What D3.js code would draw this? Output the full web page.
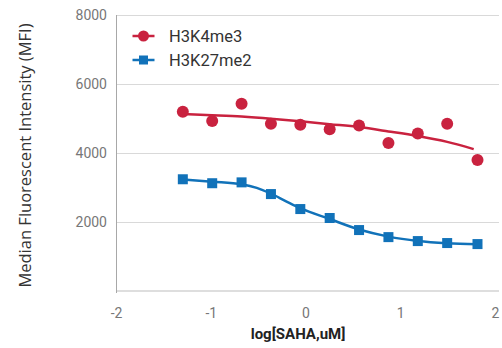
<!DOCTYPE html>
<html>
<head>
<meta charset="utf-8">
<script src="https://cdn.jsdelivr.net/npm/d3@7"></script>
<style>
  html, body { margin: 0; padding: 0; background: #fff; }
  svg { display: block; }
</style>
</head>
<body>
<svg id="chart" width="502" height="348"></svg>
<script>
// Dose points (log10 SAHA concentration, uM)
const doses = [-1.30, -0.99, -0.68, -0.37, -0.06, 0.25, 0.56, 0.87, 1.18, 1.49, 1.81];

// Measured MFI per mark
const h3k4me3 = [5190, 4925, 5420, 4840, 4810, 4685, 4790, 4285, 4560, 4840, 3790];
const h3k27me2 = [3230, 3115, 3140, 2800, 2365, 2105, 1755, 1550, 1435, 1378, 1348];

// Fitted curves (x, MFI)
const fitH3k4me3X = [-1.30, -0.99, -0.68, -0.37, -0.06, 0.25, 0.56, 0.87, 1.18, 1.49, 1.77];
const fitH3k4me3Y = [5125, 5090, 5050, 4990, 4915, 4830, 4745, 4620, 4485, 4315, 4105];
const fitH3k27me2X = [-1.30, -0.99, -0.68, -0.52, -0.37, -0.21, -0.06, 0.25, 0.56, 0.87, 1.18, 1.49, 1.81];
const fitH3k27me2Y = [3225, 3160, 3085, 2980, 2810, 2590, 2390, 2075, 1770, 1565, 1440, 1375, 1345];

const xTicks = [-2, -1, 0, 1, 2];
const yTicks = [2000, 4000, 6000, 8000];

const seriesNames = ["H3K4me3", "H3K27me2"];
const colors = ["#c9223f", "#1172b9"];

const svg = d3.select("#chart");
const margin = { left: 116.5, right: 3, top: 15, bottom: 58 };
const W = 502, H = 348;

const x = d3.scaleLinear().domain([-2, 2]).range([margin.left, 495.5]);
const y = d3.scaleLinear().domain([0, 8000]).range([290.5, margin.top]);

// Horizontal grid lines
svg.append("g")
  .selectAll("line")
  .data(yTicks)
  .join("line")
  .attr("x1", margin.left).attr("x2", W - margin.right)
  .attr("y1", d => Math.round(y(d)) + 0.5).attr("y2", d => Math.round(y(d)) + 0.5)
  .attr("stroke", "#d9d9d9").attr("stroke-width", 1.2);

// Baseline
svg.append("line")
  .attr("x1", margin.left).attr("x2", W - margin.right)
  .attr("y1", y(0) + 0.5).attr("y2", y(0) + 0.5)
  .attr("stroke", "#dedede").attr("stroke-width", 2);

// Left axis line
svg.append("line")
  .attr("x1", margin.left).attr("x2", margin.left)
  .attr("y1", y(8000)).attr("y2", y(0) + 2.5)
  .attr("stroke", "#a8a8a8").attr("stroke-width", 1);

// Y tick labels
svg.append("g")
  .selectAll("text")
  .data(yTicks)
  .join("text")
  .attr("x", 107).attr("y", d => y(d))
  .attr("dy", "0.36em")
  .attr("text-anchor", "end")
  .attr("font-family", "Roboto, sans-serif")
  .attr("font-size", 14)
  .attr("fill", "#777")
  .text(d => d);

// X tick labels
svg.append("g")
  .selectAll("text")
  .data(xTicks)
  .join("text")
  .attr("x", d => x(d)).attr("y", 318)
  .attr("text-anchor", "middle")
  .attr("font-family", "Roboto, sans-serif")
  .attr("font-size", 14)
  .attr("fill", "#777")
  .text(d => d < 0 ? "-" + Math.abs(d) : d);

// Axis titles
svg.append("text")
  .attr("x", 298).attr("y", 339)
  .attr("text-anchor", "middle")
  .attr("font-family", "Roboto, sans-serif")
  .attr("font-weight", "bold")
  .attr("font-size", 15)
  .attr("fill", "#222")
  .text("log[SAHA,uM]");

svg.append("text")
  .attr("transform", "translate(30.5,155.5) rotate(-90)")
  .attr("text-anchor", "middle")
  .attr("font-family", "'Open Sans', sans-serif")
  .attr("font-size", 16.5)
  .attr("fill", "#333")
  .text("Median Fluorescent Intensity (MFI)");

// Fit curves
const line = d3.line().x(d => x(d[0])).y(d => y(d[1])).curve(d3.curveMonotoneX);

svg.append("path")
  .datum(d3.zip(fitH3k4me3X, fitH3k4me3Y))
  .attr("d", line)
  .attr("fill", "none")
  .attr("stroke", colors[0])
  .attr("stroke-width", 2.5);

svg.append("path")
  .datum(d3.zip(fitH3k27me2X, fitH3k27me2Y))
  .attr("d", line)
  .attr("fill", "none")
  .attr("stroke", colors[1])
  .attr("stroke-width", 2.5);

// Markers
svg.append("g")
  .selectAll("circle")
  .data(d3.zip(doses, h3k4me3))
  .join("circle")
  .attr("cx", d => x(d[0])).attr("cy", d => y(d[1]))
  .attr("r", 6)
  .attr("fill", colors[0]);

const sq = 10;
svg.append("g")
  .selectAll("rect")
  .data(d3.zip(doses, h3k27me2))
  .join("rect")
  .attr("x", d => x(d[0]) - sq / 2).attr("y", d => y(d[1]) - sq / 2)
  .attr("width", sq).attr("height", sq)
  .attr("fill", colors[1]);

// Legend
const legend = svg.append("g");
seriesNames.forEach((name, i) => {
  const ly = 36 + i * 24;
  const g = legend.append("g");
  g.append("line")
    .attr("x1", 132.5).attr("x2", 154.5)
    .attr("y1", ly).attr("y2", ly)
    .attr("stroke", colors[i]).attr("stroke-width", 2.5);
  if (i === 0) {
    g.append("circle").attr("cx", 143.5).attr("cy", ly).attr("r", 5.5).attr("fill", colors[i]);
  } else {
    g.append("rect").attr("x", 139).attr("y", ly - 4.5).attr("width", 9).attr("height", 9).attr("fill", colors[i]);
  }
  g.append("text")
    .attr("x", 169).attr("y", ly)
    .attr("dy", "0.36em")
    .attr("font-family", "Roboto, sans-serif")
    .attr("font-size", 16.5)
    .attr("fill", "#333")
    .text(name);
});
</script>
</body>
</html>
